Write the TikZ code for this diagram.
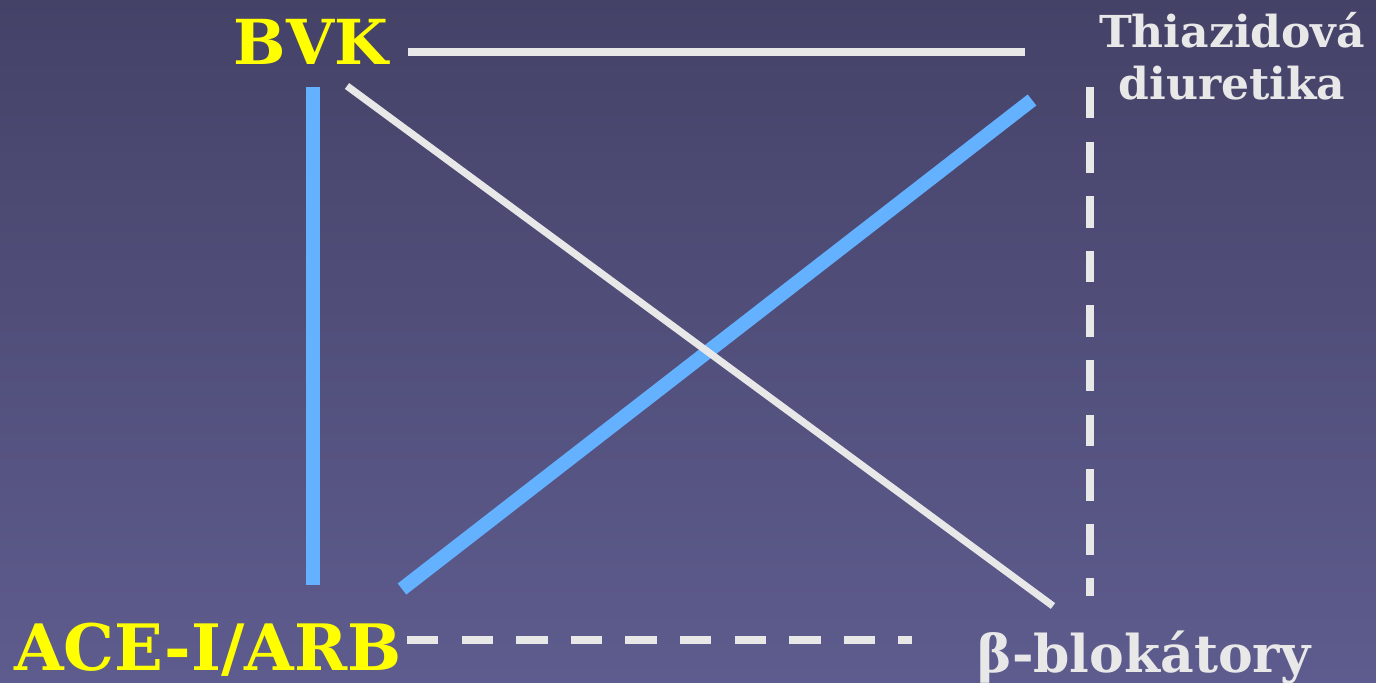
\documentclass[tikz,border=0pt]{standalone}
\usepackage{fontspec}
\setmainfont{DejaVu Serif}
\usepackage{tikz}
\usetikzlibrary{positioning}

\definecolor{bgtop}{RGB}{69,66,104}
\definecolor{bgbot}{RGB}{94,92,142}
\definecolor{drugyel}{RGB}{255,255,0}
\definecolor{druggry}{RGB}{232,232,232}
\definecolor{linkblue}{RGB}{99,177,255}

\begin{document}
\begin{tikzpicture}[
    x=0.5pt, y=-0.5pt,
    lbl/.style={inner sep=0pt, anchor=base, font=\bfseries\fontsize{#1}{#1}\selectfont},
    yel/.style={text=drugyel},
    gry/.style={text=druggry},
    good/.style={draw=linkblue, line width=7pt},
    plain/.style={draw=druggry, line width=#1},
    maybe/.style={draw=druggry, line width=4.3pt, dash pattern=on 15.7pt off 11.6pt}
]
\useasboundingbox (0,0) rectangle (1376,683);

%% ══════════════════════════════ BACKGROUND ══════════════════════════════
\shade[top color=bgtop, bottom color=bgbot] (0,0) rectangle (1376,683);

%% ══════════════════════════════ DRUG CLASSES ══════════════════════════════
\node[lbl=31, yel] (bvk) at (311,65) {BVK};
\node[lbl=32, yel] (acei) at (208,670) {ACE-I/ARB};
%% base anchor = baseline of the second line
\node[lbl=22, gry, align=center] (thz) at (1232,100)
    {Thiazidová\\[4pt]diuretika};
\node[lbl=26, gry] (beta) at (1144,672) {β-blokátory};

%% end points of the links next to each label
\coordinate (bvkR) at (408,52);
\coordinate (bvkD) at (313,87);
\coordinate (bvkX) at (347,86);
\coordinate (aceU) at (313,585);
\coordinate (aceX) at (402,589);
\coordinate (aceR) at (407,640);
\coordinate (thzL) at (1025,52);
\coordinate (thzX) at (1032,100);
\coordinate (thzD) at (1090,87);
\coordinate (betaX) at (1053,606);
\coordinate (betaL) at (912,640);
\coordinate (betaU) at (1090,596);

%% ══════════════════════════════ LINKS ══════════════════════════════
\draw[good] (bvkD) -- (aceU);
\draw[good] (aceX) -- (thzX);

\draw[plain=4.2pt] (bvkR) -- (thzL);
\draw[plain=3.6pt] (bvkX) -- (betaX);

\draw[maybe] (aceR) -- (betaL);
\draw[maybe] (thzD) -- (betaU);

\end{tikzpicture}
\end{document}
